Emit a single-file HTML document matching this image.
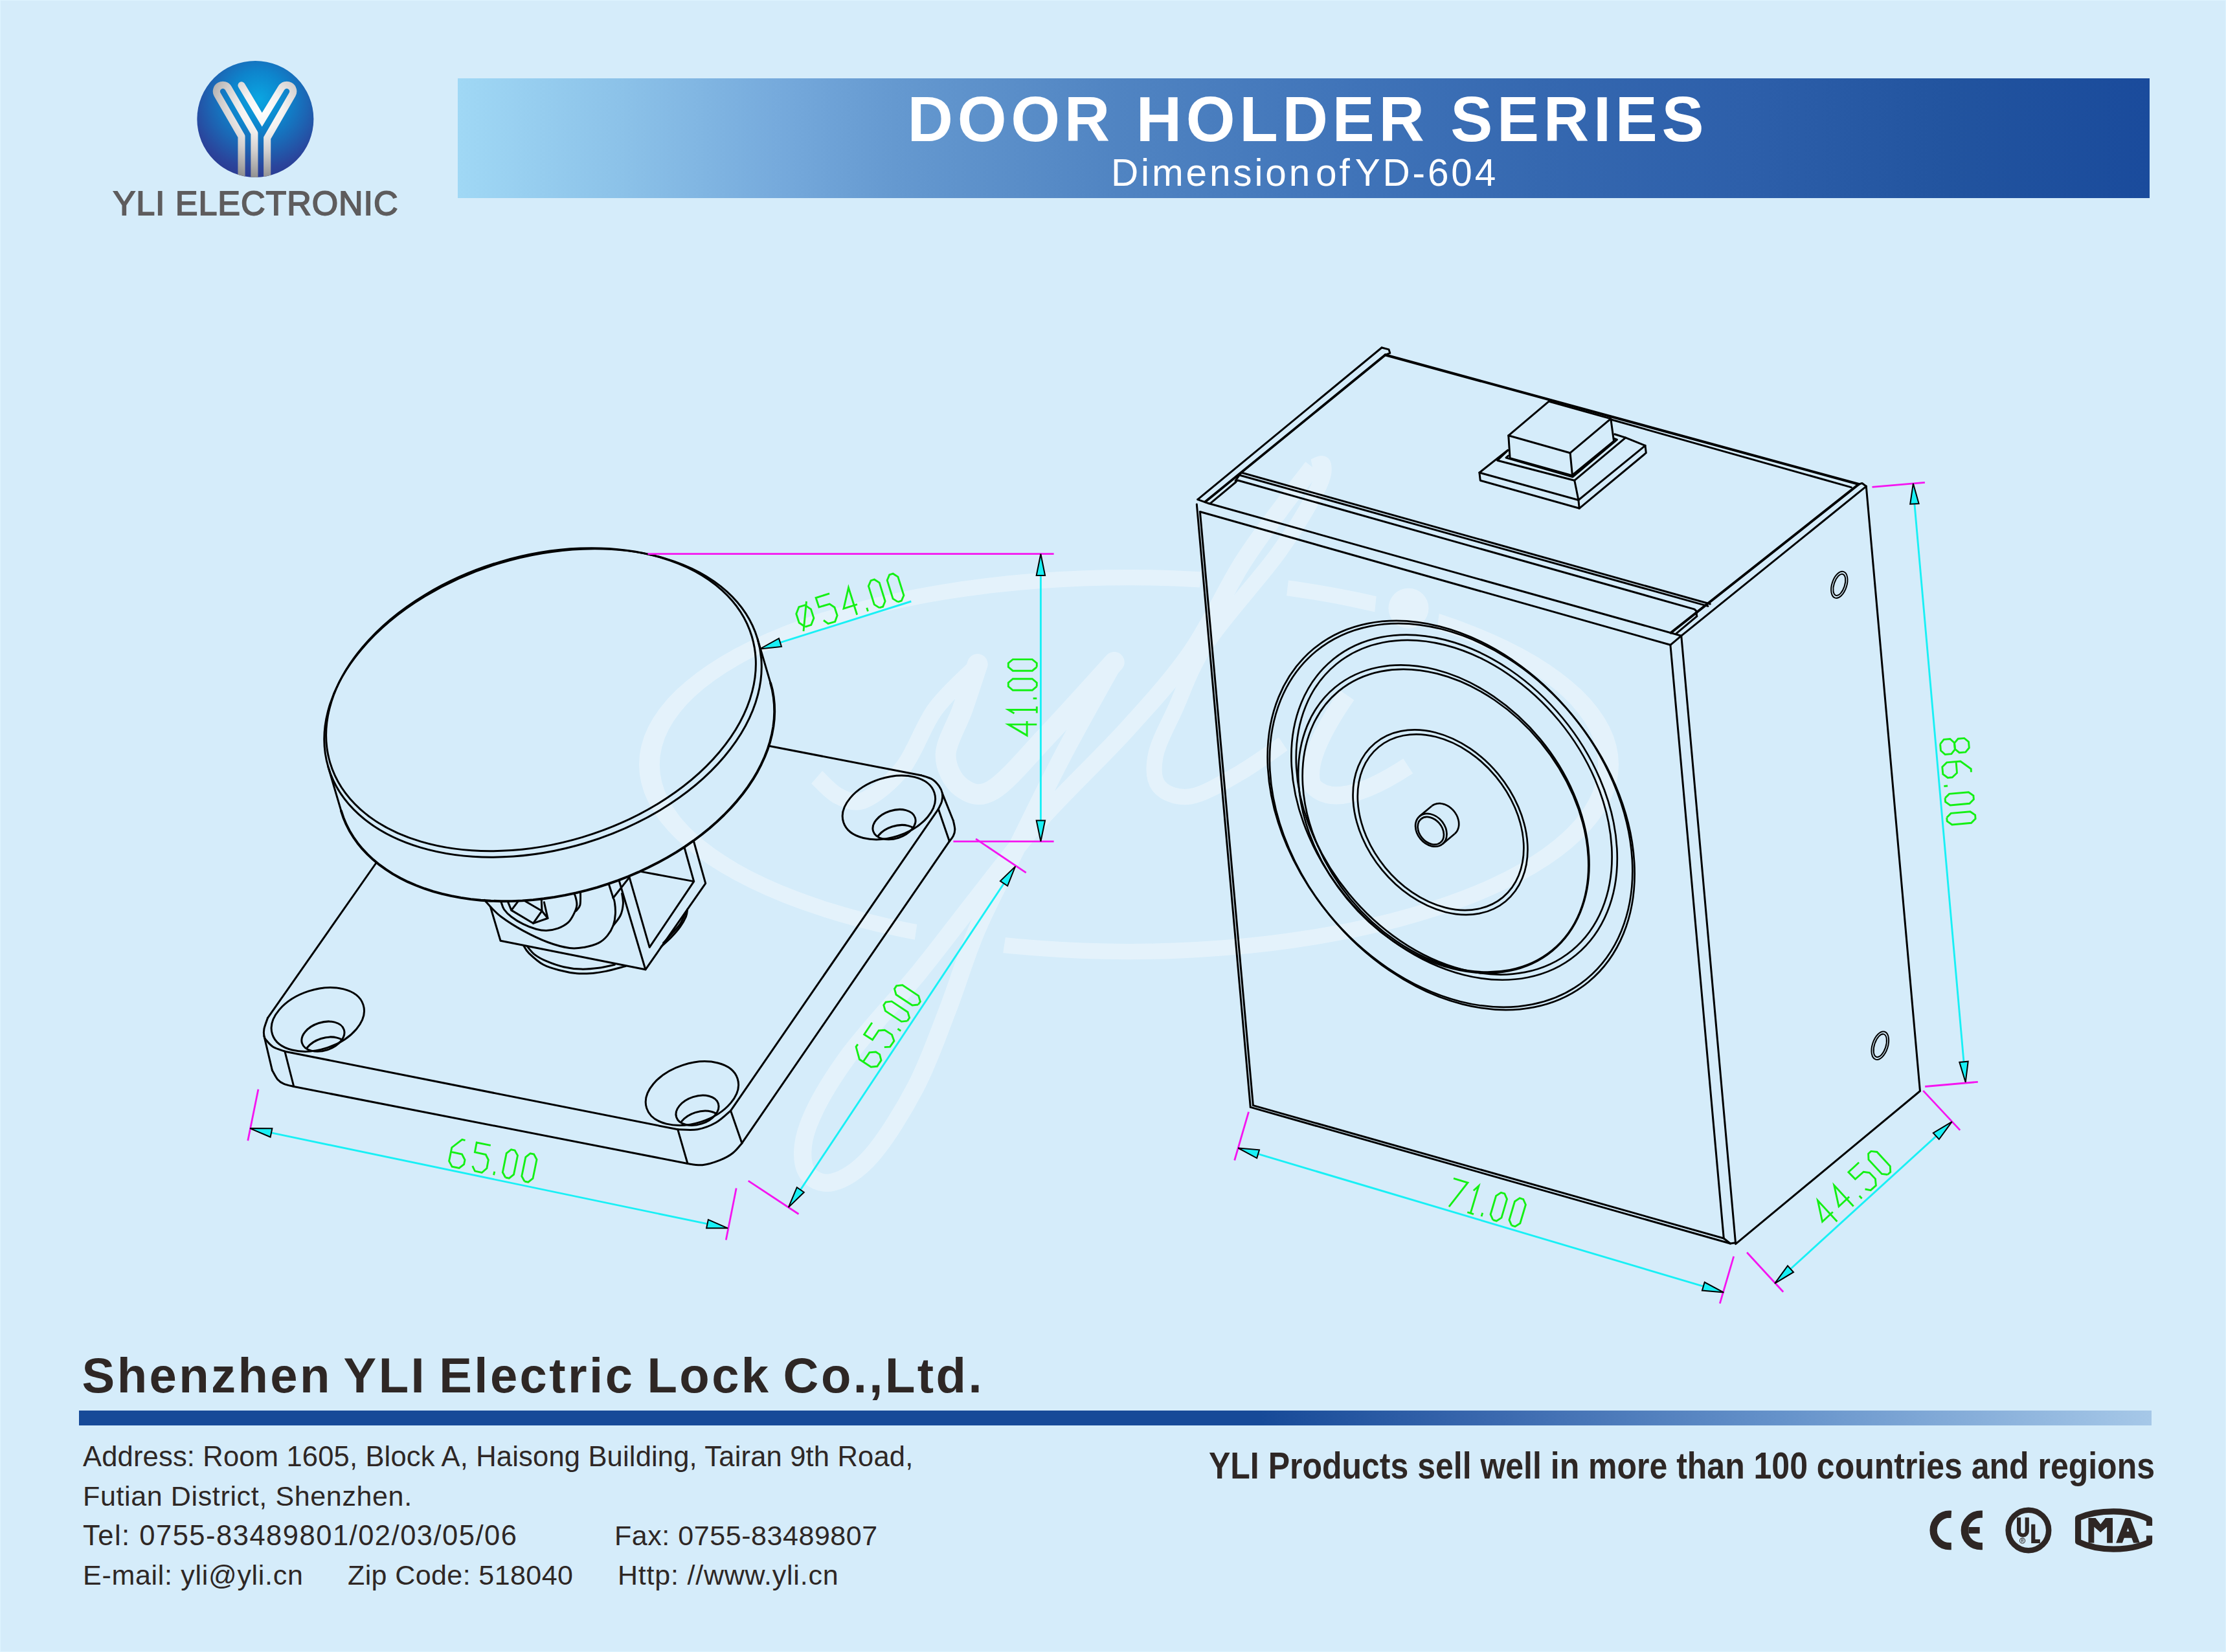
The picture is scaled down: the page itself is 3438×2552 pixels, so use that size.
<!DOCTYPE html>
<html><head><meta charset="utf-8"><title>YD-604</title>
<style>
html,body{margin:0;padding:0;}
body{width:3438px;height:2552px;overflow:hidden;background:#D5ECFA;position:relative;font-family:"Liberation Sans",sans-serif;}
.t{position:absolute;white-space:pre;line-height:1;transform-origin:0 0;}
#banner{position:absolute;left:707px;top:121px;width:2613px;height:185px;
 background:linear-gradient(90deg,#A0D8F5 0%,#8BC1E8 10%,#76AADC 18.9%,#6599D0 25.8%,#5084C2 39%,#4074B9 52.5%,#3568B0 64%,#2D5FAA 76.3%,#22549F 88%,#1A4B9C 100%);}
#rule{position:absolute;left:122px;top:2178.5px;width:3201px;height:23.3px;
 background:linear-gradient(90deg,#174A98 0%,#174A98 57%,#3A68AE 68%,#6592CA 82%,#A6C8E8 100%);}
#t_sub{word-spacing:-15px;}
#t_co{word-spacing:-5.5px;}
#t_logo{-webkit-text-stroke:1.8px #5E5C5D;}
#edge{position:absolute;left:0;top:0;width:3438px;height:2552px;box-sizing:border-box;border:1px solid #DEF4FE;}
svg{position:absolute;left:0;top:0;overflow:visible;}
</style></head><body>
<div id="edge"></div>
<div id="banner"></div>
<div id="rule"></div>
<svg width="3438" height="2552" viewBox="0 0 3438 2552">
<!-- watermark -->
<defs><mask id="wmk" maskUnits="userSpaceOnUse" x="0" y="0" width="2400" height="1700"><rect x="0" y="0" width="2400" height="1700" fill="#fff"/><polygon points="690,980 870,1010 850,1140 670,1110" fill="#000"/><polygon points="1268,270 1445,290 1432,400 1255,380" fill="#000"/><polygon points="1622,340 1750,380 1738,480 1612,440" fill="#000"/></mask></defs>
<g opacity="0.36"><g transform="translate(900,650) scale(0.756501)" fill="none" stroke="#fff" stroke-linecap="butt" stroke-linejoin="round">
<path mask="url(#wmk)" fill="#fff" stroke="none" fill-rule="evenodd" d="M115 702 A1000 398 0 1 0 2115 702 A1000 398 0 1 0 115 702 Z M157 702 A958 366 0 1 1 2073 702 A958 366 0 1 1 157 702 Z"/>
<path d="M478.0 728.0 C485.5 734.5 506.7 759.3 523.0 767.0 C539.3 774.7 554.2 783.8 576.0 774.0 C597.8 764.2 630.2 738.7 654.0 708.0 C677.8 677.3 694.7 623.8 719.0 590.0 C743.3 556.2 786.5 519.2 800.0 505.0" stroke-width="34"/>
<path d="M806.0 497.0 C800.8 512.5 785.8 559.2 775.0 590.0 C764.2 620.8 741.5 655.7 741.0 682.0 C740.5 708.3 756.0 736.0 772.0 748.0 C788.0 760.0 807.7 771.5 837.0 754.0 C866.3 736.5 906.7 686.5 948.0 643.0 C989.3 599.5 1062.2 518.0 1085.0 493.0" stroke-width="42" stroke-linecap="round"/>
<path d="M1085.0 493.0 C1067.7 524.5 1014.7 617.8 981.0 682.0 C947.3 746.2 912.5 818.2 883.0 878.0 C853.5 937.8 827.0 986.8 804.0 1041.0 C781.0 1095.2 765.7 1149.8 745.0 1203.0 C724.3 1256.2 705.8 1310.5 680.0 1360.0 C654.2 1409.5 618.3 1467.5 590.0 1500.0 C561.7 1532.5 532.5 1550.0 510.0 1555.0 C487.5 1560.0 463.3 1549.2 455.0 1530.0 C446.7 1510.8 445.8 1478.3 460.0 1440.0 C474.2 1401.7 502.2 1352.3 540.0 1300.0 C577.8 1247.7 643.0 1180.0 687.0 1126.0 C731.0 1072.0 762.7 1028.2 804.0 976.0 C845.3 923.8 883.8 870.7 935.0 813.0 C986.2 755.3 1059.8 686.7 1111.0 630.0 C1162.2 573.3 1202.7 529.7 1242.0 473.0 C1281.3 416.3 1314.0 342.2 1347.0 290.0 C1380.0 237.8 1416.2 192.5 1440.0 160.0 C1463.8 127.5 1481.7 105.8 1490.0 95.0" stroke-width="36"/>
<path d="M1490.0 95.0 C1493.7 94.2 1510.3 82.5 1512.0 90.0 C1513.7 97.5 1515.3 110.0 1500.0 140.0 C1484.7 170.0 1457.5 217.8 1420.0 270.0 C1382.5 322.2 1310.2 399.7 1275.0 453.0 C1239.8 506.3 1226.5 551.8 1209.0 590.0 C1191.5 628.2 1175.3 655.8 1170.0 682.0 C1164.7 708.2 1165.0 732.8 1177.0 747.0 C1189.0 761.2 1214.8 771.5 1242.0 767.0 C1269.2 762.5 1308.7 737.8 1340.0 720.0 C1371.3 702.2 1415.0 670.0 1430.0 660.0" stroke-width="32"/>
<path stroke-width="36" d="M1560 560 Q1470 690 1490 745 Q1540 800 1685 705"/>
<circle cx="1686" cy="383" r="41" fill="#fff" stroke="none"/>
</g></g>
<!-- logo -->
<defs>
<radialGradient id="lg1" gradientUnits="userSpaceOnUse" cx="860" cy="600" r="900">
<stop offset="0" stop-color="#0AA6E2"/><stop offset="0.35" stop-color="#0E84CC"/><stop offset="0.62" stop-color="#1D63B2"/><stop offset="0.85" stop-color="#2A459C"/><stop offset="1" stop-color="#2B3990"/></radialGradient>
<radialGradient id="lg2" gradientUnits="userSpaceOnUse" cx="900" cy="720" r="760">
<stop offset="0" stop-color="#FFFFFF"/><stop offset="0.3" stop-color="#F4F2F1"/><stop offset="0.6" stop-color="#D2CFCE"/><stop offset="0.85" stop-color="#A9A8A8"/><stop offset="1" stop-color="#8E8E8E"/></radialGradient>
<clipPath id="lgc"><circle cx="821.5" cy="818.5" r="646.5"/></clipPath>
</defs>
<g transform="translate(280,70) scale(0.139211)">
<circle cx="821.5" cy="818.5" r="646.5" fill="url(#lg1)"/>
<g clip-path="url(#lgc)" fill="none" stroke="url(#lg2)" stroke-width="80" stroke-linejoin="round">
<path d="M 668 1480 L 668 1011.52 L 399.514 546.5 A 71 71 0 0 1 522.486 475.5 L 811 975.206 L 811 1480"/>
<path d="M 953 1480 L 953 1028.84 L 1231.49 546.5 A 71 71 0 0 0 1108.51 475.5 L 896 826 L 668 444" stroke-linecap="round" stroke-linejoin="miter" stroke-miterlimit="10"/>
</g></g>
<!-- icons -->
<g transform="translate(2960,2310) scale(0.17071)" fill="none" stroke="#2E2624">
<path d="M 315 172 L 298 171 A 145 145 0 0 0 298 461 L 315 461" stroke-width="66" transform="translate(0,0)"/>
<path d="M 597 171 L 580 171 A 145 145 0 0 0 580 461 L 597 461" stroke-width="66"/>
<path d="M 470 316 L 572 316" stroke-width="58"/>
<circle cx="1013" cy="316" r="183" stroke-width="50"/>
<path d="M 926 200 L 926 325 A 37 37 0 0 0 1000 325 L 1000 200" stroke-width="36"/>
<path d="M 1056 262 L 1056 416 L 1118 416" stroke-width="36"/>
<circle cx="958" cy="410" r="24" stroke-width="6"/>
<path d="M 950 424 L 950 397 L 960 397 Q 968 397 968 404 Q 968 411 960 411 L 950 411 M 960 411 L 968 424" stroke-width="5"/>
<path d="M 2106 275 L 2106 218 Q 1960 146 1782 146 Q 1600 146 1462 205 L 1462 420 Q 1600 487 1782 487 Q 1960 487 2106 425 L 2106 365" stroke-width="54" stroke-linejoin="round"/>
<path fill="#2E2624" stroke="none" d="M1555 430 L1555 205 L1620 205 L1665 262 L1710 205 L1775 205 L1775 430 L1723 430 L1723 285 L1665 335 L1607 285 L1607 430 Z"/>
<path fill="#2E2624" stroke="none" fill-rule="evenodd" d="M1805 430 L1890 205 L1935 205 L2020 430 L1963 430 L1946 385 L1879 385 L1862 430 Z M1902 326 L1913 297 L1924 326 Z"/>
</g>
<!-- draw_left -->
<g fill="none" stroke="#000" stroke-width="3" stroke-linejoin="round" stroke-linecap="round">
<ellipse cx="838.5" cy="1086.0" rx="346.0" ry="226.0" transform="rotate(-16.70 838.5 1086.0)" />
<ellipse cx="835.5" cy="1080.7" rx="340.0" ry="222.0" transform="rotate(-16.70 835.5 1080.7)" />
<path d="M1190.1 1055.3 L1192.9 1066.1 L1194.8 1077.1 L1195.9 1088.2 L1196.2 1099.5 L1195.7 1111.0 L1194.4 1122.5 L1192.2 1134.2 L1189.3 1145.8 L1185.6 1157.5 L1181.0 1169.2 L1175.7 1180.8 L1169.7 1192.4 L1162.9 1203.9 L1155.3 1215.3 L1147.1 1226.5 L1138.1 1237.6 L1128.5 1248.4 L1118.2 1259.0 L1107.3 1269.4 L1095.8 1279.5 L1083.7 1289.3 L1071.1 1298.7 L1057.9 1307.8 L1044.3 1316.6 L1030.3 1324.9 L1015.8 1332.8 L1000.9 1340.3 L985.7 1347.4 L970.2 1354.0 L954.5 1360.1 L938.5 1365.7 L922.3 1370.8 L905.9 1375.4 L889.5 1379.4 L872.9 1382.9 L856.3 1385.9 L839.8 1388.3 L823.3 1390.1 L806.8 1391.4 L790.5 1392.1 L774.4 1392.2 L758.4 1391.7 L742.7 1390.7 L727.3 1389.1 L712.2 1386.9 L697.4 1384.2 L683.0 1380.9 L669.1 1377.1 L655.6 1372.7 L642.6 1367.8 L630.1 1362.4 L618.2 1356.5 L606.8 1350.1 L596.1 1343.2 L586.0 1335.9 L576.5 1328.1 L567.7 1319.9 L559.7 1311.4 L552.3 1302.4 L545.7 1293.1 L539.8 1283.4 L534.7 1273.4 L530.4 1263.2 L526.9 1252.7" stroke-width="3.9"/>
<path d="M1170.1 987.3 L1190.1 1055.3" />
<path d="M506.9 1184.7 L526.9 1252.7" />
<path d="M581.0 1333.0 L413.4 1572.7" />
<path d="M413.4 1572.7 C412.5 1575.5 408.8 1584.8 407.9 1589.4 C407.0 1594.0 407.4 1597.7 407.9 1600.5 C408.3 1603.3 408.3 1603.3 410.6 1606.1 C412.9 1608.9 416.9 1614.2 421.8 1617.2 C426.7 1620.2 436.9 1623.0 439.9 1624.2" />
<path d="M439.9 1624.2 L1046.8 1744.8" />
<path d="M1046.8 1744.8 C1051.9 1744.8 1067.5 1746.5 1077.3 1744.8 C1087.1 1743.0 1097.1 1739.1 1105.6 1734.3 C1114.1 1729.5 1124.7 1718.9 1128.5 1715.8" />
<path d="M1128.5 1715.8 L1449.3 1249.8" />
<path d="M1449.3 1249.8 C1450.2 1247.8 1453.7 1241.7 1454.7 1237.7 C1455.7 1233.7 1456.1 1229.4 1455.4 1225.6 C1454.7 1221.8 1453.2 1218.2 1450.6 1214.6 C1448.0 1210.9 1444.2 1206.5 1439.6 1203.7 C1434.9 1200.9 1425.5 1198.7 1422.7 1197.7" />
<path d="M1422.7 1197.7 L1187.3 1152.3" />
<path d="M407.9 1600.5 L420.4 1653.4" />
<path d="M420.4 1653.4 C421.8 1655.7 425.7 1663.9 428.7 1667.4 C431.7 1670.9 434.3 1672.5 438.5 1674.3 C442.7 1676.1 451.2 1677.8 453.8 1678.5" />
<path d="M439.9 1624.2 L453.8 1678.5" />
<path d="M453.8 1678.5 L1062.0 1797.5" />
<path d="M1062.0 1797.5 C1065.8 1797.9 1076.6 1800.6 1084.9 1799.7 C1093.2 1798.8 1104.3 1795.2 1112.1 1792.1 C1119.9 1789.0 1126.2 1785.6 1131.8 1781.2 C1137.4 1776.8 1143.6 1768.5 1145.9 1765.9" />
<path d="M1046.8 1744.8 L1062.0 1797.5" />
<path d="M1128.5 1715.8 L1145.9 1765.9" />
<path d="M1145.9 1765.9 L1466.3 1299.6" />
<path d="M1455.4 1225.6 L1472.4 1268.0" />
<path d="M1449.3 1249.8 L1466.3 1299.6" />
<path d="M1472.4 1268.0 C1472.8 1270.2 1474.8 1277.6 1474.8 1281.4 C1474.8 1285.2 1473.8 1288.1 1472.4 1291.1 C1471.0 1294.1 1467.3 1298.2 1466.3 1299.6" />
<ellipse cx="490.8" cy="1574.9" rx="73.8" ry="46.0" transform="rotate(-18.00 490.8 1574.9)" />
<ellipse cx="498.9" cy="1601.1" rx="34.0" ry="21.7" transform="rotate(-18.00 498.9 1601.1)" />
<clipPath id="hc0"><ellipse cx="498.9" cy="1601.1" rx="34.0" ry="21.7" transform="rotate(-18.00 498.9 1601.1)" /></clipPath>
<g clip-path="url(#hc0)"><ellipse cx="502.4" cy="1625.1" rx="34.0" ry="21.7" transform="rotate(-18.00 502.4 1625.1)" /></g>
<ellipse cx="1068.9" cy="1689.1" rx="73.8" ry="46.0" transform="rotate(-18.00 1068.9 1689.1)" />
<ellipse cx="1077.0" cy="1715.3" rx="34.0" ry="21.7" transform="rotate(-18.00 1077.0 1715.3)" />
<clipPath id="hc1"><ellipse cx="1077.0" cy="1715.3" rx="34.0" ry="21.7" transform="rotate(-18.00 1077.0 1715.3)" /></clipPath>
<g clip-path="url(#hc1)"><ellipse cx="1080.5" cy="1739.3" rx="34.0" ry="21.7" transform="rotate(-18.00 1080.5 1739.3)" /></g>
<ellipse cx="1372.9" cy="1247.4" rx="73.8" ry="46.0" transform="rotate(-18.00 1372.9 1247.4)" />
<ellipse cx="1381.0" cy="1273.6" rx="34.0" ry="21.7" transform="rotate(-18.00 1381.0 1273.6)" />
<clipPath id="hc2"><ellipse cx="1381.0" cy="1273.6" rx="34.0" ry="21.7" transform="rotate(-18.00 1381.0 1273.6)" /></clipPath>
<g clip-path="url(#hc2)"><ellipse cx="1384.5" cy="1297.6" rx="34.0" ry="21.7" transform="rotate(-18.00 1384.5 1297.6)" /></g>
<path d="M748.3 1390.4 L757.3 1400.5 L773.0 1453.3 L996.9 1497.8 L1089.7 1364.6 L1071.7 1300.5" />
<path d="M996.9 1497.8 L956.1 1360.1" />
<path d="M971.8 1354.4 L1003.2 1463.4 L1071.7 1361.6 L1057.1 1309.5" />
<path d="M990.9 1346.6 L1071.7 1361.6" />
<path d="M947.1 1387.0 L971.8 1355.6" />
<path d="M940.3 1365.7 L947.1 1387.0" />
<path d="M784.2 1392.6 L789.8 1406.1 L800.0 1392.6" />
<path d="M789.8 1406.1 L823.5 1426.3 L837.0 1407.2 L810.1 1391.5" />
<path d="M837.0 1407.2 L836.3 1390.4" />
<path d="M823.5 1426.3 L846.0 1418.5 L840.4 1393.8" />
<path d="M837.0 1407.2 L846.0 1418.5" />
<path d="M757.3 1400.5 C760.1 1403.1 765.7 1410.0 774.1 1416.2 C782.5 1422.4 795.8 1431.0 807.8 1437.6 C819.8 1444.1 834.0 1451.0 846.0 1455.5 C858.0 1460.0 870.3 1463.2 879.7 1464.5 C889.1 1465.8 894.7 1464.7 902.2 1463.4 C909.6 1462.1 918.6 1459.6 924.6 1456.6 C930.6 1453.7 934.4 1449.9 938.1 1445.4 C941.8 1440.9 945.0 1435.3 947.1 1429.7 C949.1 1424.1 950.1 1417.7 950.4 1411.7 C950.8 1405.7 949.9 1397.9 949.3 1393.8 C948.8 1389.6 947.5 1388.1 947.1 1387.0" />
<path d="M960.6 1380.3 C960.9 1382.9 962.7 1390.4 962.4 1396.0 C962.0 1401.6 960.9 1408.4 958.3 1414.0 C955.8 1419.6 949.0 1427.1 947.1 1429.7" />
<path d="M774.1 1393.8 C774.9 1395.6 776.0 1401.2 778.6 1405.0 C781.2 1408.7 785.0 1412.5 789.8 1416.2 C794.7 1420.0 801.5 1424.3 807.8 1427.4 C814.2 1430.6 822.0 1433.6 828.0 1435.3 C834.0 1437.0 838.1 1437.7 843.8 1437.6 C849.4 1437.4 856.1 1436.2 861.7 1434.2 C867.3 1432.1 873.3 1428.9 877.4 1425.2 C881.6 1421.5 884.2 1416.2 886.4 1411.7 C888.7 1407.2 890.6 1402.7 890.9 1398.2 C891.3 1393.8 889.4 1387.8 888.7 1384.8 C887.9 1381.8 886.8 1381.0 886.4 1380.3" />
<path d="M896.5 1379.2 C896.4 1382.3 897.0 1393.6 895.9 1398.2 C894.7 1402.9 890.8 1405.7 889.8 1407.2" />
<path d="M808.9 1461.1 C810.3 1463.0 811.7 1467.5 816.8 1472.4 C821.9 1477.2 831.0 1485.8 839.3 1490.3 C847.5 1494.8 857.6 1497.1 866.2 1499.3 C874.8 1501.6 882.7 1503.1 890.9 1503.8 C899.2 1504.5 908.1 1503.9 915.6 1503.4 C923.1 1502.8 927.4 1502.2 935.8 1500.4 C944.3 1498.7 961.1 1493.9 966.2 1492.6" />
<path d="M814.6 1462.3 C816.4 1464.3 820.9 1470.9 825.8 1474.6 C830.7 1478.4 836.3 1481.5 843.8 1484.7 C851.2 1487.9 861.7 1491.7 870.7 1493.7 C879.7 1495.8 888.7 1496.8 897.7 1497.1 C906.6 1497.3 916.0 1496.4 924.6 1495.3 C933.2 1494.2 945.2 1491.2 949.3 1490.3" />
<path d="M1061.6 1405.0 C1061.3 1406.9 1061.3 1411.7 1059.4 1416.2 C1057.5 1420.7 1054.1 1426.7 1050.4 1431.9 C1046.7 1437.2 1041.8 1442.6 1036.9 1447.7 C1032.1 1452.7 1023.8 1459.8 1021.2 1462.3" />
<path d="M1058.7 1410.6 C1057.3 1413.4 1054.0 1422.0 1050.4 1427.4 C1046.8 1432.9 1041.2 1438.3 1036.9 1443.2 C1032.6 1448.0 1026.6 1454.4 1024.6 1456.6" />
</g>
<!-- draw_right -->
<g fill="none" stroke="#000" stroke-width="3" stroke-linejoin="round" stroke-linecap="round">
<path d="M1849.8 771.6 L2134.1 537.0" />
<path d="M1861.3 775.3 L2139.5 548.3" stroke-width="3.8"/>
<path d="M1869.9 777.2 L1909.0 744.5" />
<path d="M2134.1 537.0 L2145.0 539.9 L2146.8 545.4 L2139.5 548.3" />
<path d="M2139.5 548.3 L2870.9 748.0" stroke-width="4.0"/>
<path d="M2488.0 648.0 L2859.4 752.9" />
<path d="M2870.9 748.0 L2580.6 977.5" stroke-width="4.0"/>
<path d="M2882.3 751.3 L2596.8 982.2" />
<path d="M2870.9 748.0 L2876.0 746.5 L2882.3 751.3" />
<path d="M2882.3 751.3 L2965.4 1684.9" />
<path d="M2965.4 1685.5 L2680.7 1921.7" />
<path d="M2596.8 982.9 L2680.5 1919.8" />
<path d="M2579.9 996.3 L2662.3 1913.0" />
<path d="M2579.9 996.3 L2596.8 982.2" />
<path d="M1867.2 777.8 L2596.8 982.2" />
<path d="M1853.4 790.5 L2579.9 996.3" />
<path d="M1849.8 771.6 L1867.2 777.8" />
<path d="M1848.3 778.9 L1931.3 1710.4" />
<path d="M1853.4 790.5 L1935.4 1707.6" />
<path d="M1931.3 1710.4 L2672.4 1921.0" />
<path d="M1935.4 1707.6 L2662.3 1913.0" />
<path d="M2662.3 1913.0 L2672.4 1921.0 L2680.5 1919.8" />
<path d="M1917.1 730.0 L2641.2 933.0" />
<path d="M1914.4 734.0 L2637.9 936.4" />
<path d="M1912.6 742.2 L2617.0 941.1 L2620.4 944.4 L2620.4 951.9" />
<path d="M1917.1 730.0 L1908.1 742.7 L1912.6 742.2" />
<path d="M2621.0 951.9 L2588.7 978.8" />
<ellipse cx="2840.8" cy="903.4" rx="21.3" ry="11.4" transform="rotate(-72.00 2840.8 903.4)" stroke-width="2"/>
<ellipse cx="2840.8" cy="903.4" rx="17.3" ry="8.2" transform="rotate(-72.00 2840.8 903.4)" stroke-width="2"/>
<ellipse cx="2903.8" cy="1615.2" rx="22.5" ry="12.0" transform="rotate(-72.00 2903.8 1615.2)" stroke-width="2"/>
<ellipse cx="2903.8" cy="1615.2" rx="18.5" ry="8.8" transform="rotate(-72.00 2903.8 1615.2)" stroke-width="2"/>
<path d="M2329.8 672.8 L2392.1 620.1 L2487.8 646.9 L2425.1 699.7 L2329.8 672.8" />
<path d="M2329.8 672.8 L2332.1 707.8 L2427.8 734.4 L2492.5 681.3 L2487.8 646.9" />
<path d="M2425.1 699.7 L2428.5 734.8" />
<path d="M2329.4 704.0 L2326.0 707.1 L2429.1 736.7 L2497.5 679.2 L2492.9 677.5" />
<path d="M2328.7 696.0 L2312.6 711.2 L2431.8 742.2 L2510.7 676.1 L2493.8 670.8" />
<path d="M2431.8 742.2 L2437.9 772.5" />
<path d="M2328.7 695.4 L2284.9 730.1 L2437.9 772.5 L2541.0 688.3 L2510.7 676.1" />
<path d="M2284.9 730.1 L2286.3 742.2 L2439.2 785.3 L2542.3 699.7 L2541.0 688.3" />
<path d="M2437.9 772.5 L2439.2 785.3" />
</g>
<g fill="none" stroke="#000" stroke-width="2.7">
<ellipse cx="2239.5" cy="1257.4" rx="330.9" ry="242.9" transform="rotate(50.50 2239.5 1257.4)" />
<ellipse cx="2242.8" cy="1261.6" rx="330.9" ry="242.9" transform="rotate(50.50 2242.8 1261.6)" />
<ellipse cx="2246.1" cy="1247.2" rx="295.5" ry="216.9" transform="rotate(50.50 2246.1 1247.2)" />
<ellipse cx="2245.7" cy="1247.2" rx="286.4" ry="210.2" transform="rotate(50.50 2245.7 1247.2)" />
<ellipse cx="2229.8" cy="1265.3" rx="263.8" ry="193.6" transform="rotate(50.50 2229.8 1265.3)" />
<ellipse cx="2232.5" cy="1267.7" rx="259.3" ry="190.3" transform="rotate(50.50 2232.5 1267.7)" />
<ellipse cx="2224.5" cy="1270.2" rx="158.4" ry="116.3" transform="rotate(50.50 2224.5 1270.2)" />
<ellipse cx="2225.1" cy="1270.2" rx="150.6" ry="110.6" transform="rotate(50.50 2225.1 1270.2)" />
<ellipse cx="2210.3" cy="1282.3" rx="27.8" ry="21.4" transform="rotate(50.50 2210.3 1282.3)" />
<ellipse cx="2209.8" cy="1283.3" rx="23.6" ry="17.4" transform="rotate(50.50 2209.8 1283.3)" />
<path d="M2211.2 1245.2 L2212.0 1244.6 L2212.9 1244.0 L2213.8 1243.5 L2214.7 1243.0 L2215.7 1242.5 L2216.7 1242.2 L2217.8 1241.9 L2218.8 1241.6 L2219.9 1241.4 L2221.0 1241.3 L2222.2 1241.2 L2223.3 1241.2 L2224.5 1241.2 L2225.6 1241.4 L2226.8 1241.5 L2228.0 1241.8 L2229.2 1242.1 L2230.4 1242.4 L2231.6 1242.8 L2232.7 1243.3 L2233.9 1243.8 L2235.1 1244.4 L2236.2 1245.0 L2237.3 1245.7 L2238.4 1246.4 L2239.5 1247.2 L2240.6 1248.1 L2241.6 1248.9 L2242.6 1249.9 L2243.6 1250.8 L2244.5 1251.8 L2245.4 1252.8 L2246.2 1253.9 L2247.1 1255.0 L2247.8 1256.1 L2248.5 1257.3 L2249.2 1258.4 L2249.9 1259.6 L2250.4 1260.8 L2251.0 1262.1 L2251.4 1263.3 L2251.8 1264.5 L2252.2 1265.8 L2252.5 1267.0 L2252.8 1268.3 L2253.0 1269.5 L2253.1 1270.7 L2253.2 1272.0 L2253.2 1273.2 L2253.2 1274.4 L2253.1 1275.6 L2252.9 1276.7 L2252.7 1277.8 L2252.4 1278.9 L2252.1 1280.0 L2251.7 1281.1 L2251.3 1282.1 L2250.8 1283.0 L2250.2 1284.0 L2249.7 1284.9 L2249.0 1285.7 L2248.3 1286.5 L2247.6 1287.3 L2246.8 1288.0" />
<path d="M2192.5 1260.9 L2211.2 1245.2" />
<path d="M2228.1 1303.7 L2246.8 1288.0" />
</g>
<!-- dims -->
<g stroke="#F514F0" stroke-width="2.8" fill="none">
<line x1="398.9" y1="1682.7" x2="382.8" y2="1762.1"/>
<line x1="1137.2" y1="1835.6" x2="1121.3" y2="1915.6"/>
<line x1="1155.7" y1="1824.1" x2="1233.5" y2="1875.5"/>
<line x1="1507.1" y1="1295.9" x2="1584.7" y2="1348.1"/>
<line x1="1000.5" y1="855.7" x2="1627.6" y2="855.7"/>
<line x1="1472.4" y1="1299.8" x2="1627.6" y2="1299.8"/>
<line x1="1928.5" y1="1717.7" x2="1906.7" y2="1792.5"/>
<line x1="2677.7" y1="1940.9" x2="2656.3" y2="2013.6"/>
<line x1="2698.1" y1="1934.7" x2="2754.2" y2="1995.8"/>
<line x1="2970.3" y1="1684.9" x2="3027.2" y2="1745.9"/>
<line x1="2891.5" y1="752.3" x2="2972.9" y2="745.4"/>
<line x1="2973.2" y1="1678.5" x2="3054.8" y2="1671.3"/>
</g>
<g stroke="#19F0F5" stroke-width="2.9" fill="none">
<line x1="419.0" y1="1749.9" x2="1092.5" y2="1890.7"/>
<line x1="1236.3" y1="1838.0" x2="1550.5" y2="1364.8"/>
<line x1="1607.4" y1="889.0" x2="1607.4" y2="1267.4"/>
<line x1="1943.1" y1="1782.7" x2="2630.8" y2="1987.2"/>
<line x1="2765.5" y1="1960.3" x2="2990.3" y2="1755.1"/>
<line x1="2956.9" y1="778.4" x2="3033.0" y2="1640.3"/>
<line x1="1205.0" y1="992.6" x2="1407.3" y2="929.0"/>
</g>
<g stroke="#000" stroke-width="2" fill="#19F0F5" stroke-linejoin="miter">
<polygon points="386.1,1743.1 417.6,1756.5 420.4,1743.3"/>
<polygon points="1124.1,1897.3 1093.9,1884.1 1091.1,1897.3"/>
<polygon points="1217.8,1865.1 1241.8,1841.8 1230.8,1834.2"/>
<polygon points="1568.2,1338.4 1544.9,1361.1 1556.1,1368.5"/>
<polygon points="1607.4,855.7 1600.7,889.0 1614.1,889.0"/>
<polygon points="1607.4,1299.8 1614.1,1267.4 1600.7,1267.4"/>
<polygon points="1912.3,1773.5 1941.2,1789.1 1945.0,1776.3"/>
<polygon points="2662.3,1996.6 2632.7,1980.8 2628.9,1993.6"/>
<polygon points="2741.1,1982.7 2770.0,1965.2 2761.0,1955.4"/>
<polygon points="3014.7,1732.8 2985.8,1750.2 2994.8,1760.0"/>
<polygon points="2954.9,747.0 2950.2,778.8 2963.6,778.0"/>
<polygon points="3035.7,1671.8 3039.7,1639.7 3026.3,1640.9"/>
<polygon points="1173.6,1002.5 1207.0,999.0 1203.0,986.2"/>
</g>
<g stroke="#14F014" stroke-width="2.9" fill="none" stroke-linejoin="miter" stroke-miterlimit="6" stroke-linecap="butt">
<polyline points="718.5,1761.6 713.8,1760.4 697.8,1772.7 693.6,1793.6 698.1,1802.1 709.1,1804.4 716.6,1798.7 718.0,1791.8 713.5,1783.0 696.5,1779.3"/>
<polyline points="757.8,1769.4 736.2,1765.0 733.4,1779.9 750.2,1783.6 754.3,1791.8 751.9,1804.8 744.2,1811.5 733.5,1809.1 729.7,1801.2"/>
<polyline points="762.6,1815.3 763.7,1809.7"/>
<polyline points="780.7,1819.0 786.3,1820.1 793.5,1814.4 799.5,1785.1 795.1,1777.0 789.5,1775.9 782.2,1781.6 776.3,1810.9 780.7,1819.0"/>
<polyline points="810.2,1825.0 815.8,1826.2 823.0,1820.5 829.0,1791.2 824.6,1783.1 819.0,1781.9 811.8,1787.6 805.8,1816.9 810.2,1825.0"/>
<polyline points="1243.5,968.3 1252.8,965.4 1256.9,954.9 1252.5,941.1 1243.2,934.8 1233.9,937.7 1229.8,948.2 1234.2,962.0 1243.5,968.3"/>
<polyline points="1241.0,975.1 1245.5,929.0"/>
<polyline points="1281.1,916.9 1260.1,923.5 1264.9,937.9 1281.3,933.0 1289.0,938.2 1293.1,950.7 1289.7,960.3 1279.1,963.4 1272.0,958.3"/>
<polyline points="1323.7,949.7 1310.5,907.7 1303.0,940.2 1324.0,933.7"/>
<polyline points="1340.5,944.4 1338.8,938.9"/>
<polyline points="1358.1,938.9 1363.6,937.2 1367.1,928.7 1358.2,900.1 1350.4,895.2 1345.0,896.9 1341.4,905.4 1350.3,933.9 1358.1,938.9"/>
<polyline points="1386.9,929.9 1392.3,928.1 1395.9,919.7 1386.9,891.1 1379.2,886.2 1373.7,887.9 1370.2,896.4 1379.1,924.9 1386.9,929.9"/>
<polyline points="1601.3,1119.1 1557.3,1119.1 1586.1,1136.1 1586.1,1114.1"/>
<polyline points="1566.5,1102.1 1557.3,1096.5 1601.3,1096.5"/>
<polyline points="1601.3,1101.5 1601.3,1091.4"/>
<polyline points="1601.3,1078.9 1595.6,1078.9"/>
<polyline points="1601.3,1060.4 1601.3,1054.7 1594.3,1048.7 1564.3,1048.7 1557.3,1054.7 1557.3,1060.4 1564.3,1066.3 1594.3,1066.3 1601.3,1060.4"/>
<polyline points="1601.3,1030.3 1601.3,1024.5 1594.3,1018.6 1564.3,1018.6 1557.3,1024.5 1557.3,1030.3 1564.3,1036.2 1594.3,1036.2 1601.3,1030.3"/>
<polyline points="1324.9,1613.1 1322.1,1617.1 1327.4,1636.5 1345.2,1648.3 1354.8,1647.3 1361.0,1637.9 1358.6,1628.9 1352.7,1625.0 1342.9,1625.9 1333.1,1640.2"/>
<polyline points="1346.9,1579.7 1334.7,1598.0 1347.5,1606.2 1357.2,1592.0 1366.4,1591.3 1377.5,1598.4 1380.9,1608.1 1374.6,1617.1 1365.8,1617.6"/>
<polyline points="1391.2,1592.5 1386.4,1589.3"/>
<polyline points="1401.4,1577.1 1404.6,1572.3 1402.0,1563.5 1377.1,1546.9 1368.0,1548.0 1364.8,1552.7 1367.4,1561.6 1392.3,1578.1 1401.4,1577.1"/>
<polyline points="1418.1,1552.0 1421.3,1547.2 1418.7,1538.4 1393.8,1521.8 1384.6,1522.9 1381.5,1527.6 1384.0,1536.5 1409.0,1553.0 1418.1,1552.0"/>
<polyline points="2245.0,1820.4 2266.9,1827.0 2237.9,1864.2"/>
<polyline points="2275.8,1839.3 2283.8,1832.0 2271.2,1874.2"/>
<polyline points="2266.3,1872.7 2276.0,1875.6"/>
<polyline points="2288.1,1879.2 2289.7,1873.7"/>
<polyline points="2305.8,1884.5 2311.3,1886.1 2319.0,1881.1 2327.5,1852.4 2323.8,1843.9 2318.3,1842.3 2310.6,1847.4 2302.1,1876.0 2305.8,1884.5"/>
<polyline points="2334.7,1893.1 2340.1,1894.7 2347.8,1889.7 2356.4,1861.0 2352.7,1852.6 2347.2,1850.9 2339.5,1856.0 2331.0,1884.6 2334.7,1893.1"/>
<polyline points="2837.4,1886.9 2807.5,1854.6 2814.6,1887.3 2830.8,1872.3"/>
<polyline points="2862.7,1863.4 2832.8,1831.1 2840.0,1863.8 2856.1,1848.8"/>
<polyline points="2875.6,1851.5 2871.7,1847.3"/>
<polyline points="2871.1,1795.7 2854.9,1810.7 2865.4,1821.6 2878.2,1810.2 2887.3,1811.6 2896.4,1821.1 2897.4,1831.3 2889.2,1838.6 2880.5,1837.0"/>
<polyline points="2915.5,1814.5 2919.7,1810.7 2919.3,1801.5 2898.9,1779.5 2889.8,1778.4 2885.6,1782.3 2886.0,1791.5 2906.4,1813.4 2915.5,1814.5"/>
<polyline points="2996.6,1149.4 2997.5,1159.5 3004.2,1165.5 3013.9,1164.7 3019.4,1157.6 3018.5,1147.5 3011.8,1141.5 3002.2,1142.3 2996.6,1149.4"/>
<polyline points="3018.6,1147.9 3019.4,1157.1 3026.1,1162.7 3035.7,1161.9 3041.3,1155.2 3040.5,1146.0 3033.8,1140.4 3024.2,1141.2 3018.6,1147.9"/>
<polyline points="3044.4,1192.7 3044.2,1187.8 3027.9,1176.0 3006.7,1177.9 2999.8,1184.7 3000.8,1195.9 3008.3,1201.4 3015.3,1200.8 3022.5,1194.0 3021.1,1176.6"/>
<polyline points="3002.4,1214.5 3008.1,1214.0"/>
<polyline points="3004.1,1232.9 3004.6,1238.6 3012.1,1243.9 3041.9,1241.3 3048.4,1234.7 3047.9,1229.0 3040.4,1223.7 3010.6,1226.4 3004.1,1232.9"/>
<polyline points="3006.7,1263.0 3007.3,1268.6 3014.8,1273.9 3044.6,1271.3 3051.1,1264.7 3050.6,1259.0 3043.0,1253.7 3013.2,1256.4 3006.7,1263.0"/>
</g>
</svg>
<div class="t" id="t_logo" style="left:174.5px;top:287.8px;font-size:52px;font-weight:normal;color:#5E5C5D;letter-spacing:0.95px;">YLI ELECTRONIC</div>
<div class="t" id="t_title" style="left:1401.6px;top:136px;font-size:97.5px;font-weight:bold;color:#FFFFFF;letter-spacing:6.7px;">DOOR HOLDER SERIES</div>
<div class="t" id="t_sub" style="left:1716px;top:238px;font-size:58.5px;font-weight:normal;color:#FFFFFF;letter-spacing:3.85px;">Dimension of YD-604</div>
<div class="t" id="t_co" style="left:126.5px;top:2086.5px;font-size:76px;font-weight:bold;color:#2E2725;letter-spacing:3.44px;">Shenzhen YLI Electric Lock Co.,Ltd.</div>
<div class="t" id="t_a1" style="left:128px;top:2229px;font-size:43.5px;font-weight:normal;color:#2E2725;letter-spacing:0.18px;">Address: Room 1605, Block A, Haisong Building, Tairan 9th Road,</div>
<div class="t" id="t_a2" style="left:128px;top:2290px;font-size:43px;font-weight:normal;color:#2E2725;letter-spacing:0.63px;">Futian District, Shenzhen.</div>
<div class="t" id="t_a3" style="left:128px;top:2351px;font-size:43.5px;font-weight:normal;color:#2E2725;letter-spacing:1.5px;">Tel: 0755-83489801/02/03/05/06</div>
<div class="t" id="t_a3b" style="left:949px;top:2351px;font-size:43px;font-weight:normal;color:#2E2725;letter-spacing:0.55px;">Fax: 0755-83489807</div>
<div class="t" id="t_a4" style="left:128px;top:2412px;font-size:43px;font-weight:normal;color:#2E2725;letter-spacing:0.7px;">E-mail: yli@yli.cn</div>
<div class="t" id="t_a4b" style="left:537px;top:2412px;font-size:43px;font-weight:normal;color:#2E2725;letter-spacing:0.4px;">Zip Code: 518040</div>
<div class="t" id="t_a4c" style="left:954px;top:2412px;font-size:43px;font-weight:normal;color:#2E2725;letter-spacing:0.78px;">Http: //www.yli.cn</div>
<div class="t" id="t_sell" style="left:1867px;top:2234.9px;font-size:58.2px;font-weight:bold;color:#2E2725;letter-spacing:0px;transform:scaleX(0.859);">YLI Products sell well in more than 100 countries and regions</div>
</body></html>
